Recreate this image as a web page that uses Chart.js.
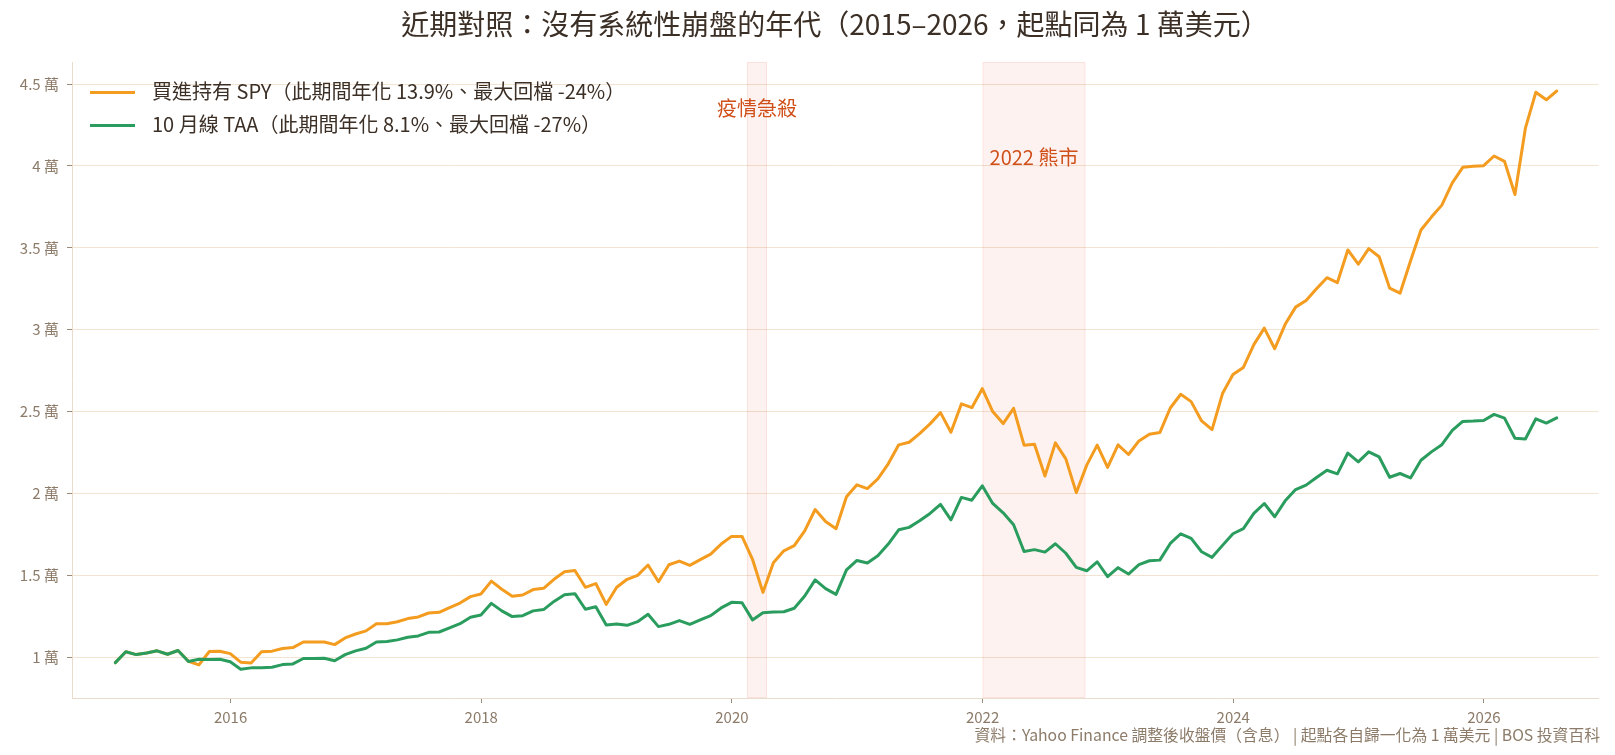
<!DOCTYPE html>
<html>
<head>
<meta charset="utf-8">
<script src="https://cdn.jsdelivr.net/npm/chart.js@4.4.1/dist/chart.umd.min.js"></script>
<style>
html,body{margin:0;padding:0;background:#ffffff;}
#wrap{position:relative;width:1615px;height:755px;overflow:hidden;}
#c{position:absolute;left:0;top:0;}
.txt{position:absolute;font-family:"Noto Sans CJK TC","Noto Sans",sans-serif;white-space:nowrap;}
#title{left:0;width:1670px;top:4px;line-height:38px;text-align:center;font-size:28px;color:#3b2f26;}
.leg{left:90px;height:26px;line-height:26px;font-size:20px;color:#3b2f26;}
.leg i{display:inline-block;width:45px;height:3px;vertical-align:middle;margin-right:17px;margin-top:-2px;}
#footer{right:15px;top:724px;line-height:22px;font-size:15.8px;color:#8c7b69;}
</style>
</head>
<body>
<div id="wrap">
<canvas id="c" width="1615" height="755"></canvas>
<div id="title" class="txt">近期對照：沒有系統性崩盤的年代（2015–2026，起點同為 1 萬美元）</div>
<div class="txt leg" style="top:78px;"><i style="background:#F39C1F"></i>買進持有 SPY（此期間年化 13.9%、最大回檔 -24%）</div>
<div class="txt leg" style="top:111px;"><i style="background:#2A9D5E"></i>10 月線 TAA（此期間年化 8.1%、最大回檔 -27%）</div>
<div id="footer" class="txt">資料：Yahoo Finance 調整後收盤價（含息） | 起點各自歸一化為 1 萬美元 | BOS 投資百科</div>
</div>
<script>
// Monthly observation dates (month-end)
const months = [
"2015-01","2015-02","2015-03","2015-04","2015-05","2015-06","2015-07","2015-08","2015-09","2015-10","2015-11","2015-12",
"2016-01","2016-02","2016-03","2016-04","2016-05","2016-06","2016-07","2016-08","2016-09","2016-10","2016-11","2016-12",
"2017-01","2017-02","2017-03","2017-04","2017-05","2017-06","2017-07","2017-08","2017-09","2017-10","2017-11","2017-12",
"2018-01","2018-02","2018-03","2018-04","2018-05","2018-06","2018-07","2018-08","2018-09","2018-10","2018-11","2018-12",
"2019-01","2019-02","2019-03","2019-04","2019-05","2019-06","2019-07","2019-08","2019-09","2019-10","2019-11","2019-12",
"2020-01","2020-02","2020-03","2020-04","2020-05","2020-06","2020-07","2020-08","2020-09","2020-10","2020-11","2020-12",
"2021-01","2021-02","2021-03","2021-04","2021-05","2021-06","2021-07","2021-08","2021-09","2021-10","2021-11","2021-12",
"2022-01","2022-02","2022-03","2022-04","2022-05","2022-06","2022-07","2022-08","2022-09","2022-10","2022-11","2022-12",
"2023-01","2023-02","2023-03","2023-04","2023-05","2023-06","2023-07","2023-08","2023-09","2023-10","2023-11","2023-12",
"2024-01","2024-02","2024-03","2024-04","2024-05","2024-06","2024-07","2024-08","2024-09","2024-10","2024-11","2024-12",
"2025-01","2025-02","2025-03","2025-04","2025-05","2025-06","2025-07","2025-08","2025-09","2025-10","2025-11","2025-12",
"2026-01","2026-02","2026-03","2026-04","2026-05","2026-06","2026-07"
];

// Portfolio value, in 萬美元 (10,000 USD)
const spyValues = [
0.967,1.033,1.016,1.026,1.039,1.018,1.041,0.975,0.953,1.035,1.037,1.022,
0.970,0.965,1.033,1.037,1.053,1.059,1.093,1.093,1.093,1.077,1.118,1.142,
1.161,1.205,1.205,1.217,1.236,1.246,1.270,1.274,1.303,1.331,1.370,1.386,
1.465,1.415,1.372,1.380,1.413,1.421,1.476,1.522,1.530,1.427,1.450,1.323,
1.427,1.476,1.500,1.563,1.461,1.565,1.587,1.561,1.596,1.630,1.691,1.738,
1.738,1.598,1.396,1.577,1.650,1.681,1.772,1.902,1.829,1.785,1.980,2.053,
2.030,2.089,2.181,2.297,2.313,2.366,2.425,2.494,2.374,2.547,2.524,2.640,
2.500,2.427,2.520,2.295,2.301,2.107,2.309,2.211,2.005,2.173,2.295,2.159,
2.297,2.238,2.321,2.362,2.372,2.522,2.606,2.561,2.443,2.390,2.610,2.726,
2.770,2.909,3.010,2.884,3.033,3.138,3.179,3.250,3.318,3.288,3.487,3.400,
3.495,3.446,3.254,3.223,3.420,3.609,3.688,3.761,3.897,3.992,3.998,4.002,
4.061,4.028,3.826,4.231,4.450,4.404,4.458
];
const taaValues = [
0.967,1.033,1.016,1.026,1.039,1.018,1.041,0.974,0.988,0.986,0.988,0.972,
0.927,0.935,0.935,0.939,0.955,0.959,0.992,0.992,0.994,0.978,1.016,1.039,
1.055,1.093,1.096,1.106,1.122,1.130,1.152,1.154,1.179,1.205,1.244,1.258,
1.329,1.283,1.248,1.254,1.283,1.291,1.341,1.382,1.388,1.293,1.308,1.197,
1.203,1.195,1.217,1.262,1.187,1.201,1.224,1.201,1.228,1.254,1.301,1.335,
1.333,1.228,1.272,1.276,1.278,1.299,1.374,1.472,1.419,1.384,1.533,1.591,
1.575,1.620,1.691,1.778,1.793,1.833,1.878,1.933,1.839,1.976,1.959,2.047,
1.939,1.882,1.809,1.646,1.657,1.642,1.693,1.635,1.549,1.528,1.583,1.492,
1.547,1.508,1.565,1.589,1.593,1.695,1.754,1.726,1.644,1.610,1.683,1.754,
1.785,1.878,1.939,1.858,1.955,2.024,2.051,2.098,2.142,2.120,2.247,2.193,
2.254,2.223,2.099,2.122,2.095,2.203,2.254,2.298,2.385,2.440,2.442,2.446,
2.483,2.460,2.337,2.333,2.456,2.430,2.462
];

const seriesNames = ["買進持有 SPY（此期間年化 13.9%、最大回檔 -24%）", "10 月線 TAA（此期間年化 8.1%、最大回檔 -27%）"];
const xTickYears = [2016, 2018, 2020, 2022, 2024, 2026];
const yTickValues = [1, 1.5, 2, 2.5, 3, 3.5, 4, 4.5];

// Shaded crisis windows (decimal years) and their labels
const shadeStarts = [2020.12, 2022.0];
const shadeEnds = [2020.28, 2022.82];
const shadeLabels = ["疫情急殺", "2022 熊市"];
const shadeLabelY = [4.35, 4.05];

function monthToYear(m) {
  const [y, mo] = m.split("-").map(Number);
  return y + (mo - 0.03) / 12;
}
const xs = months.map(monthToYear);
const spyPts = xs.map((x, i) => ({x: x, y: spyValues[i]}));
const taaPts = xs.map((x, i) => ({x: x, y: taaValues[i]}));

const FONT = '"Noto Sans CJK TC","Noto Sans",sans-serif';

const shadePlugin = {
  id: 'shades',
  beforeDatasetsDraw(chart) {
    const {ctx, chartArea, scales} = chart;
    ctx.save();
    for (let i = 0; i < shadeStarts.length; i++) {
      const x0 = scales.x.getPixelForValue(shadeStarts[i]);
      const x1 = scales.x.getPixelForValue(shadeEnds[i]);
      ctx.fillStyle = 'rgba(231,76,60,0.075)';
      ctx.fillRect(x0, chartArea.top, x1 - x0, chartArea.bottom - chartArea.top);
      ctx.strokeStyle = 'rgba(231,76,60,0.10)';
      ctx.lineWidth = 1;
      ctx.strokeRect(x0 + 0.5, chartArea.top + 0.5, x1 - x0 - 1, chartArea.bottom - chartArea.top - 1);
    }
    ctx.restore();
  },
  afterDatasetsDraw(chart) {
    const {ctx, scales} = chart;
    ctx.save();
    ctx.font = '20px ' + FONT;
    ctx.fillStyle = '#D0501A';
    ctx.textAlign = 'center';
    ctx.textBaseline = 'middle';
    for (let i = 0; i < shadeStarts.length; i++) {
      const xc = scales.x.getPixelForValue((shadeStarts[i] + shadeEnds[i]) / 2);
      const yc = scales.y.getPixelForValue(shadeLabelY[i]);
      ctx.fillText(shadeLabels[i], xc, yc);
    }
    ctx.restore();
  }
};

new Chart(document.getElementById('c'), {
  type: 'line',
  data: {
    datasets: [
      {label: seriesNames[0], data: spyPts, borderColor: '#F39C1F', borderWidth: 3, pointRadius: 0, tension: 0, order: 2, borderJoinStyle: 'round', borderCapStyle: 'round'},
      {label: seriesNames[1], data: taaPts, borderColor: '#2A9D5E', borderWidth: 3, pointRadius: 0, tension: 0, order: 1, borderJoinStyle: 'round', borderCapStyle: 'round'}
    ]
  },
  options: {
    responsive: false,
    animation: false,
    devicePixelRatio: 1,
    layout: {padding: {left: 0, right: 16.5, top: 62, bottom: 0}},
    plugins: {legend: {display: false}, title: {display: false}, tooltip: {enabled: false}},
    scales: {
      x: {
        type: 'linear',
        min: 2014.735,
        max: 2026.914,
        afterBuildTicks(scale) { scale.ticks = xTickYears.map(v => ({value: v})); },
        afterFit(scale) { scale.height = 57; },
        ticks: {
          callback: v => String(v),
          color: '#8c7b69',
          font: {family: FONT, size: 15},
          padding: 5,
          maxRotation: 0,
          autoSkip: false
        },
        grid: {drawOnChartArea: false, drawTicks: true, tickLength: 5, tickColor: '#9a8a78'},
        border: {display: true, color: '#e8dccd', width: 1}
      },
      y: {
        type: 'linear',
        min: 0.751,
        max: 4.635,
        afterBuildTicks(scale) { scale.ticks = yTickValues.map(v => ({value: v})); },
        afterFit(scale) { scale.width = 72; },
        ticks: {
          callback: v => v + ' 萬',
          color: '#8c7b69',
          font: {family: FONT, size: 15},
          padding: 8,
          autoSkip: false
        },
        grid: {color: '#f3e3d3', lineWidth: 1, drawTicks: true, tickLength: 5, tickColor: '#9a8a78'},
        border: {display: true, color: '#e8dccd', width: 1}
      }
    }
  },
  plugins: [shadePlugin]
});
</script>
</body>
</html>
